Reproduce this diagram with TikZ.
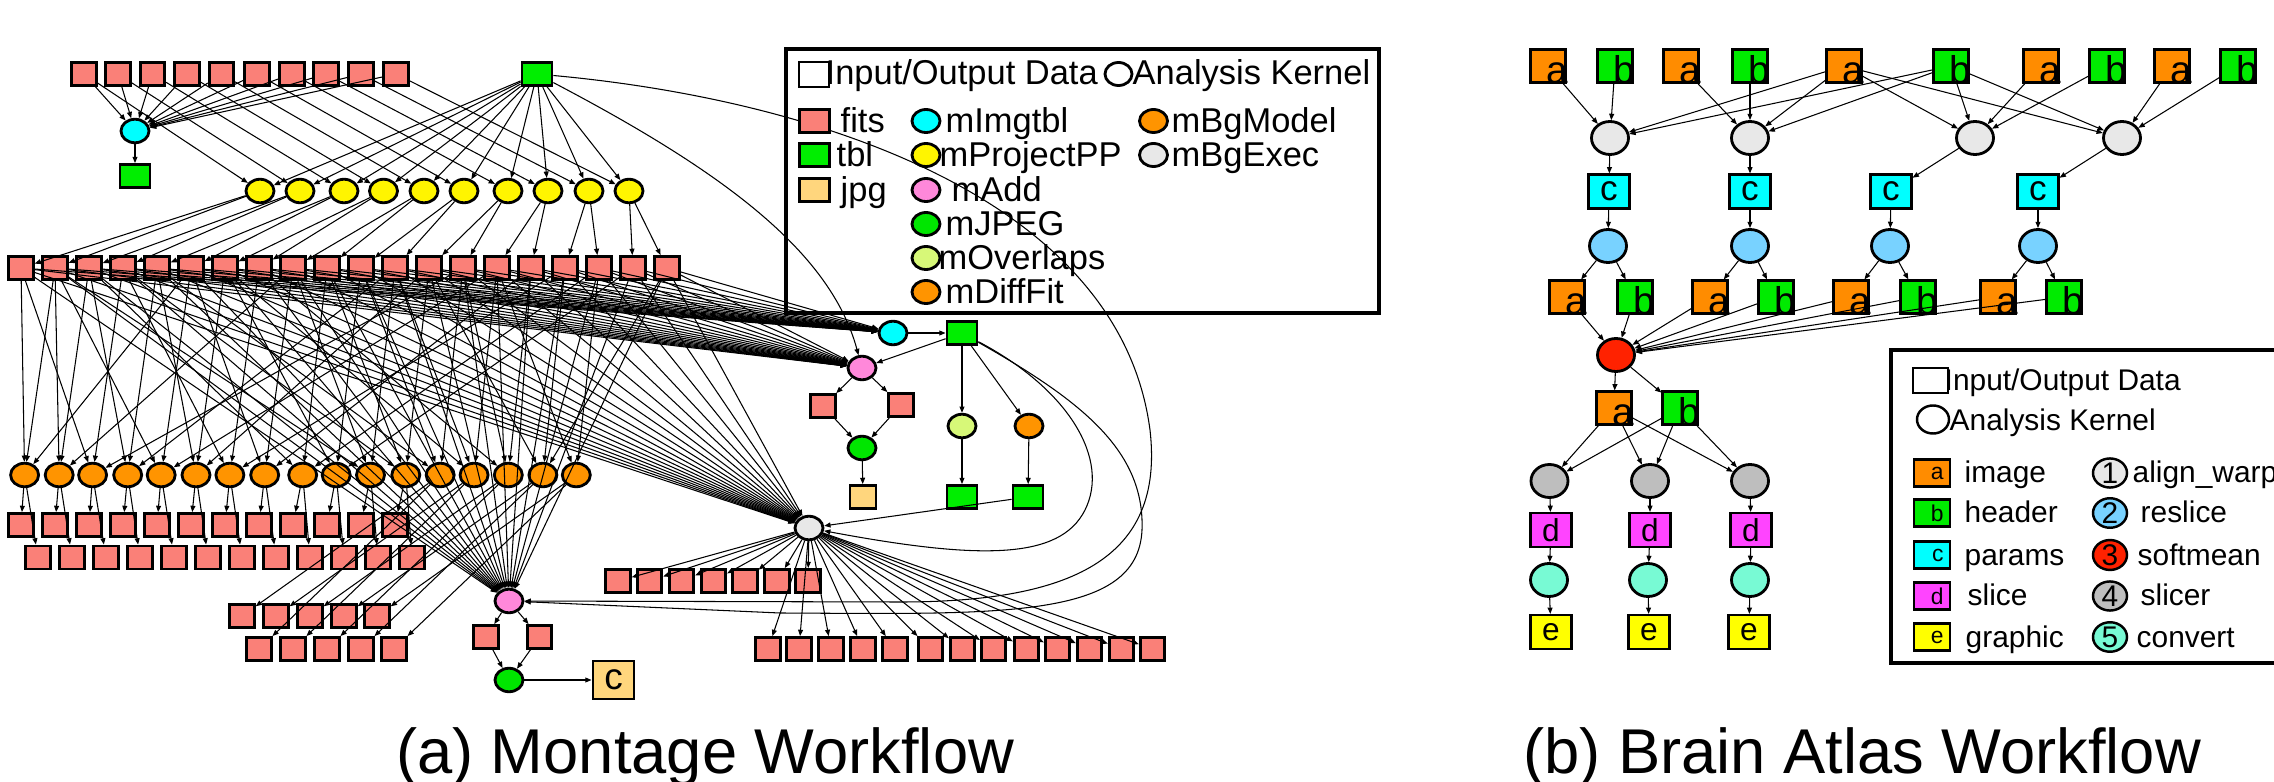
\documentclass[tikz,border=0pt]{standalone}
\usepackage{fontspec}
\setmainfont{Liberation Sans}
\usetikzlibrary{shapes.geometric,arrows.meta}
\definecolor{cfits}{RGB}{250,128,120}
\definecolor{ctbl}{RGB}{0,238,0}
\definecolor{cjpg}{RGB}{255,214,125}
\definecolor{ccyan}{RGB}{0,255,255}
\definecolor{cyel}{RGB}{255,245,0}
\definecolor{cpink}{RGB}{255,136,218}
\definecolor{cjpeg}{RGB}{0,230,0}
\definecolor{cover}{RGB}{215,248,120}
\definecolor{corange}{RGB}{255,148,0}
\definecolor{cgrey}{RGB}{232,232,232}
\definecolor{cimg}{RGB}{255,140,0}
\definecolor{chdr}{RGB}{0,235,0}
\definecolor{cslice}{RGB}{255,68,255}
\definecolor{cgraph}{RGB}{255,255,0}
\definecolor{creslice}{RGB}{120,210,255}
\definecolor{csoft}{RGB}{255,34,0}
\definecolor{cslicer}{RGB}{190,190,190}
\definecolor{cconv}{RGB}{120,250,212}
\newcommand{\legfa}{\fontsize{9.8}{11}\selectfont}
\newcommand{\legfb}{\fontsize{8.5}{10}\selectfont}
\newcommand{\capfont}{\fontsize{18}{20}\selectfont}
\begin{document}
\begin{tikzpicture}[x=0.01cm,y=-0.01cm,
  mb/.style={draw, line width=0.8pt, inner sep=0pt, minimum width=0.245cm, minimum height=0.23cm},
  mt/.style={mb, minimum width=0.3cm, fill=ctbl},
  fitsn/.style={mb, fill=cfits},
  me/.style={draw, ellipse, line width=0.8pt, inner sep=0pt, minimum width=0.28cm, minimum height=0.235cm},
  ar/.style={-{Triangle[length=1.8pt,width=1.4pt]}, line width=0.3pt},
  bb/.style={draw, line width=0.6pt, inner sep=0pt, minimum width=0.35cm, minimum height=0.33cm},
  bbw/.style={draw, line width=0.6pt, inner sep=0pt, minimum width=0.41cm, minimum height=0.34cm},
  be/.style={draw, ellipse, line width=0.8pt, inner sep=0pt, minimum width=0.37cm, minimum height=0.33cm},
  blet/.style={label={[anchor=base east, inner sep=0pt, font=\fontsize{11}{11}\selectfont, xshift=0.02cm]south east:#1}},
  lsq/.style={draw, line width=0.8pt, inner sep=0pt, minimum width=0.3cm, minimum height=0.23cm},
  lci/.style={draw, ellipse, line width=0.8pt, inner sep=0pt, minimum width=0.28cm, minimum height=0.23cm},
  ltx/.style={anchor=base west, inner sep=0pt, font=\legfa},
  lsqb/.style={draw, line width=0.7pt, inner sep=0pt, minimum width=0.36cm, minimum height=0.27cm},
  lcib/.style={draw, ellipse, line width=0.7pt, inner sep=0pt, minimum width=0.34cm, minimum height=0.28cm, font=\legfb},
  ltxb/.style={anchor=base west, inner sep=0pt, font=\legfb},
  sletb/.style={label={[anchor=east, inner sep=0pt, font=\fontsize{6.5}{7}\selectfont, xshift=-0.07cm]east:#1}}
]
\useasboundingbox (0,0) rectangle (2274,782);
\clip (0,0) rectangle (2274,782);

%%%%%%%%%%%%%%%% (a) Montage %%%%%%%%%%%%%%%%
\foreach \x [count=\k] in {84,118,152.5,187,221.5,257,292,326,361,396}
  \node[fitsn] (T\k) at (\x,74) {};
\node[mt] (G0) at (537,74) {};
\node[me, fill=ccyan] (C0) at (135,131) {};
\node[mt] (G1) at (135,176) {};
\foreach \x [count=\k] in {260,300,344,383.5,424,464,508,548,589,629}
  \node[me, fill=cyel] (Y\k) at (\x,191) {};
\foreach \i in {1,...,20}
  \node[fitsn] (R\i) at ({21+34*(\i-1)},268) {};
\foreach \x [count=\k] in {24.6,59.2,92.6,127.7,161.2,196,229.9,264.7,302.7,336.2,370.5,405.8,440.2,474.1,508.3,542.9,576.3}
  \node[me, fill=corange] (O\k) at (\x,475) {};
\foreach \i in {1,...,12}{
  \node[fitsn] (A\i) at ({21+34*(\i-1)},525) {};
  \node[fitsn] (B\i) at ({38+34*(\i-1)},557.5) {};
}
\foreach \x [count=\k] in {242,276,310,344,377}
  \node[fitsn] (Cr\k) at (\x,616) {};
\foreach \x [count=\k] in {259,293,327,361,394}
  \node[fitsn] (Dr\k) at (\x,649) {};
\node[me, fill=cpink] (P2) at (509,601) {};
\node[fitsn] (FL2) at (486,637) {};
\node[fitsn] (FR2) at (539.5,637) {};
\node[me, fill=cjpeg] (J2) at (509,680) {};
\node[draw, line width=0.8pt, inner sep=0pt, minimum width=0.41cm, minimum height=0.38cm, fill=cjpg, font=\fontsize{10.5}{10.5}\selectfont] (JC) at (613.5,680) {c};
\node[me, fill=ccyan] (C1) at (893,333) {};
\node[mt] (G2) at (962,333) {};
\node[me, fill=cpink] (P1) at (862,368) {};
\node[fitsn] (FL1) at (823,406) {};
\node[fitsn] (FR1) at (901,405) {};
\node[me, fill=cjpeg] (J1) at (862,448) {};
\node[mb, fill=cjpg, minimum width=0.26cm] (JP1) at (863,497) {};
\node[me, fill=cover] (Ov) at (962,426) {};
\node[me, fill=corange] (BgM) at (1029,426) {};
\node[mt] (G3) at (962,497) {};
\node[mt] (G4) at (1028,497) {};
\node[me, fill=cgrey] (BgE) at (809,528) {};
\foreach \x [count=\k] in {618,649.5,681.5,713.5,745,777,808}
  \node[fitsn] (E\k) at (\x,581) {};
\foreach \x [count=\k] in {768,799,831,863,895,930.5,962.5,993.5,1026.5,1057.5,1089.5,1121.5,1152.5}
  \node[fitsn] (F\k) at (\x,649) {};

\foreach \k in {1,...,10}{
  \draw[ar] (T\k) -- (C0);
  \draw[ar] (T\k) -- (Y\k);
  \draw[ar] (G0) -- (Y\k);
  \pgfmathtruncatemacro{\ra}{2*\k-1}
  \pgfmathtruncatemacro{\rb}{2*\k}
  \draw[ar] (Y\k) -- (R\ra);
  \draw[ar] (Y\k) -- (R\rb);
}
\draw[ar] (C0) -- (G1);
\foreach \i in {1,...,20}{
  \draw[ar] (R\i) -- (C1);
  \draw[ar] (R\i) -- (P1);
  \draw[ar] (R\i) -- (BgE);
  \draw[ar] (R\i) -- (P2);
}
\foreach \o/\r in {1/1,1/2,1/6,2/2,2/9,2/3,3/1,3/4,3/14,4/3,4/5,4/12,5/2,5/6,5/15,6/5,6/7,6/13,7/4,7/8,7/17,8/6,8/9,8/16,9/3,9/10,9/18,10/7,10/11,10/19,11/9,11/12,11/2,12/10,12/13,12/4,13/11,13/14,13/5,14/12,14/15,14/7,15/14,15/16,15/8,16/13,16/17,16/20,17/15,17/18}
  \draw[ar] (R\r) -- (O\o);
\foreach \k in {1,...,12}{
  \draw[ar] (O\k) -- (A\k);
  \draw[ar] (O\k) -- (B\k);
}
\foreach \m in {1,...,5}{
  \pgfmathtruncatemacro{\kk}{12+\m}
  \draw[ar] (O\kk) -- (Cr\m);
  \draw[ar] (O\kk) -- (Dr\m);
}
\draw[ar] (P2) -- (FL2);
\draw[ar] (P2) -- (FR2);
\draw[ar] (FL2) -- (J2);
\draw[ar] (FR2) -- (J2);
\draw[ar] (J2) -- (JC);
\draw[ar] (C1) -- (G2);
\draw[ar] (G2) -- (P1);
\draw[ar] (G2) -- (Ov);
\draw[ar] (G2) -- (BgM);
\draw[ar] (Ov) -- (G3);
\draw[ar] (BgM) -- (G4);
\draw[ar] (G4) -- (BgE);
\draw[ar] (P1) -- (FL1);
\draw[ar] (P1) -- (FR1);
\draw[ar] (FL1) -- (J1);
\draw[ar] (FR1) -- (J1);
\draw[ar] (J1) -- (JP1);
\foreach \k in {1,...,7} \draw[ar] (BgE) -- (E\k);
\foreach \k in {1,...,13} \draw[ar] (BgE) -- (F\k);
\draw[ar] (G0) .. controls (720,170) and (830,250) .. (P1);
\draw[ar] (G0) .. controls (820,100) and (1120,200) .. (1150,430) .. controls (1165,560) and (1070,602) .. (900,602) -- (P2);
\draw[ar] (G2) .. controls (1080,400) and (1145,450) .. (1142,530) .. controls (1138,620) and (1000,614) .. (780,613) -- (P2);
\draw[ar] (G2) .. controls (1070,390) and (1110,460) .. (1085,510) .. controls (1060,560) and (980,560) .. (BgE);

% legend (a)
\draw[line width=0.9pt] (786,49) rectangle (1379,313);
\node[lsq, minimum height=0.25cm] (LHs) at (814,74.5) {};
\node[ltx] (LHt) at (825,85) {Input/Output Data};
\node[lci, minimum width=0.27cm, minimum height=0.23cm] (LHc) at (1118.5,74) {};
\node[ltx] (LHk) at (1132,85) {Analysis Kernel};
\node[lsq, fill=cfits] (Lq1) at (814.5,121) {};
\node[ltx] (Lt1) at (840,133) {fits};
\node[lsq, fill=ctbl] (Lq2) at (814.5,155) {};
\node[ltx] (Lt2) at (836,167) {tbl};
\node[lsq, fill=cjpg] (Lq3) at (814.5,190) {};
\node[ltx] (Lt3) at (840,202) {jpg};
\node[lci, fill=ccyan] (Lc1) at (926,121) {};
\node[ltx] (Lu1) at (945,133) {mImgtbl};
\node[lci, fill=cyel] (Lc2) at (926,155) {};
\node[ltx] (Lu2) at (939,167) {mProjectPP};
\node[lci, fill=cpink] (Lc3) at (926,190) {};
\node[ltx] (Lu3) at (951,202) {mAdd};
\node[lci, fill=cjpeg] (Lc4) at (926,224) {};
\node[ltx] (Lu4) at (945,236) {mJPEG};
\node[lci, fill=cover] (Lc5) at (926,258) {};
\node[ltx] (Lu5) at (938,270) {mOverlaps};
\node[lci, fill=corange] (Lc6) at (926,292) {};
\node[ltx] (Lu6) at (945,304) {mDiffFit};
\node[lci, fill=corange] (Lc7) at (1153.5,121) {};
\node[ltx] (Lu7) at (1171,133) {mBgModel};
\node[lci, fill=cgrey] (Lc8) at (1153.5,155) {};
\node[ltx] (Lu8) at (1171,167) {mBgExec};

%%%%%%%%%%%%%%%% (b) Brain Atlas %%%%%%%%%%%%%%%%
\foreach \n/\x in {a1/1548,a2/1681,a3/1844,a4/2041,a5/2172}
  \node[bb, fill=cimg, blet=a] (\n) at (\x,66) {};
\foreach \n/\x in {b1/1615,b2/1750,b3/1951,b4/2107,b5/2238}
  \node[bb, fill=chdr, blet=b] (\n) at (\x,66) {};
\foreach \x [count=\k] in {1610,1750,1975,2122}
  \node[be, fill=cgrey] (aw\k) at (\x,138) {};
\foreach \x [count=\k] in {1609,1750,1891,2038}
  \node[bbw, fill=ccyan, font=\fontsize{10}{10}\selectfont] (pc\k) at (\x,191.5) {c};
\foreach \x [count=\k] in {1608,1750,1890,2038}
  \node[be, fill=creslice] (rs\k) at (\x,246) {};
\foreach \x [count=\k] in {1567,1710,1851,1998}
  \node[bb, fill=cimg, blet=a] (ra\k) at (\x,297) {};
\foreach \x [count=\k] in {1635,1776,1918,2064}
  \node[bb, fill=chdr, blet=b] (rb\k) at (\x,297) {};
\node[be, fill=csoft] (sm) at (1616,355) {};
\node[bb, fill=cimg, blet=a] (la) at (1614,408) {};
\node[bb, fill=chdr, blet=b] (lb) at (1680,408) {};
\foreach \x [count=\k] in {1549.5,1650,1750}
  \node[be, fill=cslicer] (sl\k) at (\x,481) {};
\foreach \x [count=\k] in {1551,1650,1751}
  \node[bbw, fill=cslice, font=\fontsize{9}{9}\selectfont] (sd\k) at (\x,530) {d};
\foreach \x [count=\k] in {1549,1648,1750}
  \node[be, fill=cconv] (cv\k) at (\x,580) {};
\foreach \x [count=\k] in {1551,1649,1749}
  \node[bbw, fill=cgraph, font=\fontsize{9}{9}\selectfont] (ge\k) at (\x,632) {e};

\foreach \s in {a1,b1,a3,b3} \draw[ar] (\s) -- (aw1);
\foreach \s in {a2,b2,a3,b3} \draw[ar] (\s) -- (aw2);
\foreach \s in {a3,b3,a4,b4} \draw[ar] (\s) -- (aw3);
\foreach \s in {a3,b3,a5,b5} \draw[ar] (\s) -- (aw4);
\foreach \k in {1,...,4}{
  \draw[ar] (aw\k) -- (pc\k);
  \draw[ar] (pc\k) -- (rs\k);
  \draw[ar] (rs\k) -- (ra\k);
  \draw[ar] (rs\k) -- (rb\k);
  \draw[ar] (ra\k) -- (sm);
  \draw[ar] (rb\k) -- (sm);
}
\draw[ar] (sm) -- (la);
\draw[ar] (sm) -- (lb);
\foreach \k in {1,2,3}{
  \draw[ar] (la) -- (sl\k);
  \draw[ar] (lb) -- (sl\k);
  \draw[ar] (sl\k) -- (sd\k);
  \draw[ar] (sd\k) -- (cv\k);
  \draw[ar] (cv\k) -- (ge\k);
}

% legend (b)
\draw[line width=0.9pt] (1891,350) rectangle (2320,663);
\node[draw, line width=0.7pt, inner sep=0pt, minimum width=0.35cm, minimum height=0.25cm] (BHs) at (1930.5,380.5) {};
\node[ltxb] (BHt) at (1944,391) {Input/Output Data};
\node[lcib, minimum width=0.32cm] (BHc) at (1933,419.5) {};
\node[ltxb] (BHk) at (1949,431) {Analysis Kernel};
\node[lsqb, fill=cimg, sletb=a] (Bq1) at (1932,473) {};
\node[ltxb] (Bt1) at (1964,483) {image};
\node[lsqb, fill=chdr, sletb=b] (Bq2) at (1932,513) {};
\node[ltxb] (Bt2) at (1964,523) {header};
\node[lsqb, fill=ccyan, sletb=c] (Bq3) at (1932,555) {};
\node[ltxb] (Bt3) at (1964,565) {params};
\node[lsqb, fill=cslice, sletb=d] (Bq4) at (1932,596) {};
\node[ltxb] (Bt4) at (1967,606) {slice};
\node[lsqb, fill=cgraph, sletb=e] (Bq5) at (1932,637) {};
\node[ltxb] (Bt5) at (1965,647) {graphic};
\node[lcib, fill=cgrey] (Bc1) at (2110,473) {1};
\node[ltxb] (Bu1) at (2132,483) {align\_warp};
\node[lcib, fill=creslice] (Bc2) at (2110,513) {2};
\node[ltxb] (Bu2) at (2140,523) {reslice};
\node[lcib, fill=csoft] (Bc3) at (2110,555) {3};
\node[ltxb] (Bu3) at (2137,565) {softmean};
\node[lcib, fill=cslicer] (Bc4) at (2110,596) {4};
\node[ltxb] (Bu4) at (2140,606) {slicer};
\node[lcib, fill=cconv] (Bc5) at (2110,637) {5};
\node[ltxb] (Bu5) at (2136,647) {convert};

% captions
\node[anchor=base, inner sep=0pt, font=\capfont] (capa) at (705,773) {(a) Montage Workflow};
\node[anchor=base, inner sep=0pt, font=\capfont] (capb) at (1862,773) {(b) Brain Atlas Workflow};
\end{tikzpicture}
\end{document}
